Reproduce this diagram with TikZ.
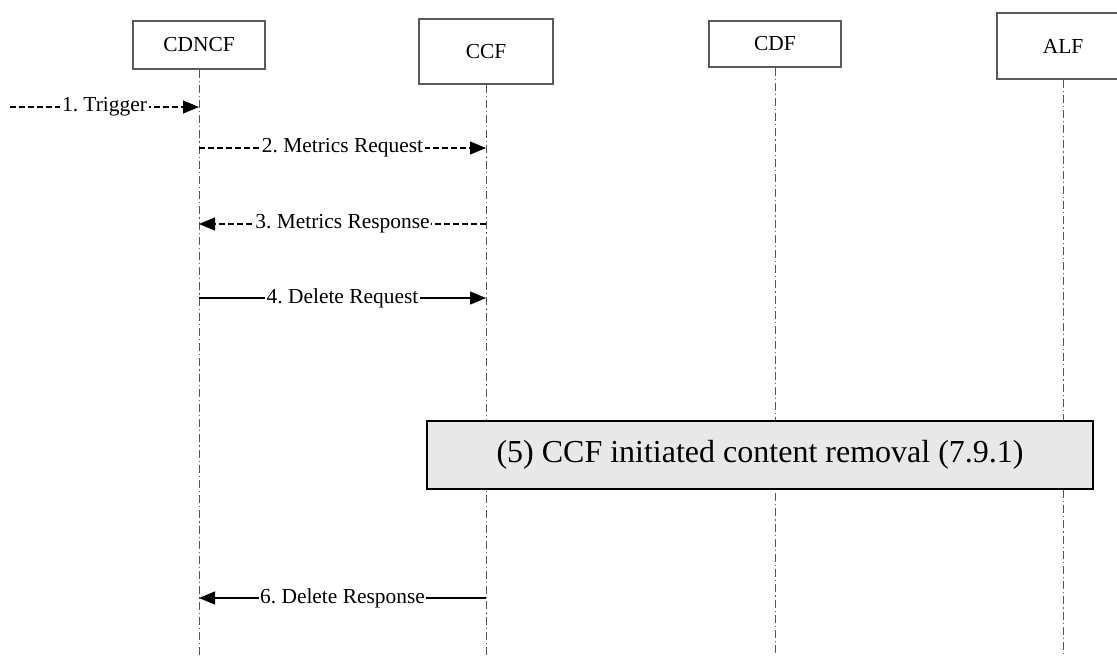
\documentclass[tikz,border=0pt]{standalone}
\usepackage{fontspec}
\setmainfont{Liberation Serif}
\usetikzlibrary{arrows.meta}
\definecolor{boxgray}{HTML}{5A5A5A}
\definecolor{linegray}{HTML}{555555}
\definecolor{procfill}{HTML}{E8E8E8}
\frenchspacing
\begin{document}
\begin{tikzpicture}[x=0.5pt,y=-0.5pt,
  actor/.style={draw=boxgray, line width=0.6pt, fill=white, minimum width=66pt, inner sep=0pt, font=\fontsize{10.7}{12}\selectfont},
  lifeline/.style={draw=linegray, line width=0.5pt, dash pattern=on 4pt off 1.5pt on 0.6pt off 1.5pt},
  msg/.style={draw=black, line width=0.55pt, -{Triangle[length=8pt,width=6.5pt]}},
  msgdash/.style={msg, dash pattern=on 3pt off 1.5pt},
  lbl/.style={fill=white, inner sep=0.8pt, font=\fontsize{10.7}{12}\selectfont},
  procbox/.style={draw=black, line width=1pt, fill=procfill, minimum width=333pt, minimum height=34pt, inner sep=0pt, font=\fontsize{16}{19}\selectfont}
]
\useasboundingbox (0,0) rectangle (1117,655);
\clip (0,0) rectangle (1117,655);

% actors
\node[actor, minimum height=24pt] (cdncf) at (199,45) {CDNCF};
\node[actor, minimum width=67pt, minimum height=32.5pt] (ccf) at (486,51.5) {CCF};
\node[actor, minimum height=23pt] (cdf) at (775,44) {CDF};
\node[actor, minimum height=33pt] (alf) at (1063,46) {ALF};

% lifeline ends
\coordinate (cdncfEnd) at (199,655);
\coordinate (ccfEnd) at (486,655);
\coordinate (cdfEnd) at (775,655);
\coordinate (alfEnd) at (1063,655);

\draw[lifeline] (cdncf.south) -- (cdncfEnd);
\draw[lifeline] (ccf.south) -- (ccfEnd);
\draw[lifeline] (cdf.south) -- (cdfEnd);
\draw[lifeline] (alf.south) -- (alfEnd);

% (5) process box
\node[procbox] (proc) at (760,455) {(5) CCF initiated content removal (7.9.1)};

% messages
\coordinate (trig) at (10,107);
\draw[msgdash] (trig) -- (cdncf |- trig) node[lbl, midway] {1. Trigger};

\draw[msgdash] (cdncf |- 0,148) -- (ccf |- 0,148) node[lbl, midway] {2. Metrics Request};

\draw[msgdash] (ccf |- 0,224) -- (cdncf |- 0,224) node[lbl, midway] {3. Metrics Response};

\draw[msg] (cdncf |- 0,298) -- (ccf |- 0,298) node[lbl, midway] {4. Delete Request};

\draw[msg] (ccf |- 0,598) -- (cdncf |- 0,598) node[lbl, midway] {6. Delete Response};
\end{tikzpicture}
\end{document}
